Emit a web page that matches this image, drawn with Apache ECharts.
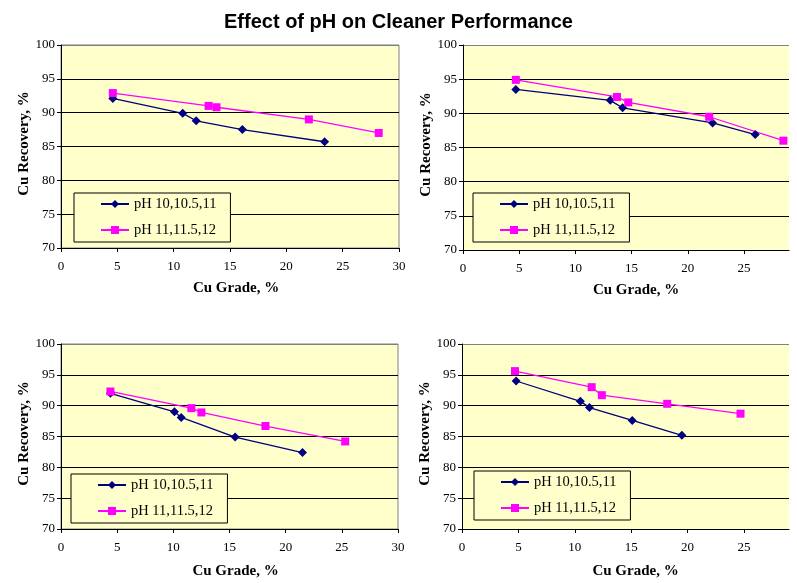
<!DOCTYPE html>
<html lang="en">
<head>
    <meta charset="UTF-8">
    <title>Effect of pH on Cleaner Performance</title>
    <script src="https://cdn.jsdelivr.net/npm/echarts@6/dist/echarts.min.js"></script>
    <style>
        body { margin: 0; background: #fff; }
        #chart { width: 797px; height: 583px; }
    </style>
</head>
<body>
    <div id="chart"></div>
    <script>
        // series names
        const nameLow = 'pH 10,10.5,11';
        const nameHigh = 'pH 11,11.5,12';

        // tick labels
        const gradeTicks = [0, 5, 10, 15, 20, 25, 30];
        const recoveryTicks = [70, 75, 80, 85, 90, 95, 100];

        // top left
        const gradeLow1 = [4.6, 10.8, 12.0, 16.1, 23.4];
        const recLow1 = [92.1, 89.9, 88.8, 87.5, 85.7];
        const gradeHigh1 = [4.6, 13.1, 13.8, 22.0, 28.2];
        const recHigh1 = [92.9, 91.0, 90.8, 89.0, 87.0];

        // top right
        const gradeLow2 = [4.7, 13.1, 14.2, 22.2, 26.0];
        const recLow2 = [93.5, 91.9, 90.8, 88.6, 86.9];
        const gradeHigh2 = [4.7, 13.7, 14.7, 21.9, 28.5];
        const recHigh2 = [94.9, 92.4, 91.6, 89.5, 86.0];

        // bottom left
        const gradeLow3 = [4.4, 10.1, 10.7, 15.5, 21.5];
        const recLow3 = [92.0, 89.0, 88.1, 84.9, 82.4];
        const gradeHigh3 = [4.4, 11.6, 12.5, 18.2, 25.3];
        const recHigh3 = [92.3, 89.6, 88.9, 86.7, 84.2];

        // bottom right
        const gradeLow4 = [4.8, 10.5, 11.3, 15.1, 19.5];
        const recLow4 = [94.0, 90.7, 89.7, 87.6, 85.2];
        const gradeHigh4 = [4.7, 11.5, 12.4, 18.2, 24.7];
        const recHigh4 = [95.6, 93.0, 91.7, 90.3, 88.7];

        const panels = [
            { low: [gradeLow1, recLow1], high: [gradeHigh1, recHigh1], xMax: 30, xGap: 33,
              grid: { left: 61, top: 45, width: 338, height: 203 }, legend: { left: 74, top: 193 }, nameShift: 12 },
            { low: [gradeLow2, recLow2], high: [gradeHigh2, recHigh2], xMax: 29, xGap: 33,
              grid: { left: 463, top: 45, width: 326, height: 205 }, legend: { left: 473, top: 193 }, nameShift: 20 },
            { low: [gradeLow3, recLow3], high: [gradeHigh3, recHigh3], xMax: 30, xGap: 35,
              grid: { left: 61, top: 344, width: 337, height: 185 }, legend: { left: 71, top: 474 }, nameShift: 12 },
            { low: [gradeLow4, recLow4], high: [gradeHigh4, recHigh4], xMax: 29, xGap: 35,
              grid: { left: 462, top: 344, width: 327, height: 185 }, legend: { left: 474, top: 471 }, nameShift: 20 }
        ];

        const serif = 'Liberation Serif, Times New Roman, serif';
        const pair = (xs, ys) => xs.map((x, i) => [x, ys[i]]);

        const option = {
            animation: false,
            title: {
                text: 'Effect of pH on Cleaner Performance',
                left: 'center',
                top: 7,
                textStyle: { fontFamily: 'Liberation Sans, Arial, sans-serif', fontSize: 20, fontWeight: 'bold', color: '#000' }
            },
            grid: [], xAxis: [], yAxis: [], legend: [], series: []
        };

        panels.forEach((p, i) => {
            // right-hand panels are cut off at the page edge, so no frame there
            const cut = p.xMax < 30;
            option.grid.push(Object.assign({
                show: true,
                backgroundColor: '#FFFFCC',
                borderColor: '#808080',
                borderWidth: cut ? 0 : 1
            }, p.grid));

            const visibleTicks = gradeTicks.filter(v => v <= p.xMax);
            option.xAxis.push({
                type: 'value',
                gridIndex: i,
                min: 0,
                max: p.xMax,
                interval: 5,
                name: 'Cu Grade, %',
                nameLocation: 'middle',
                nameGap: p.xGap,
                nameTextStyle: { fontFamily: serif, fontSize: 15, fontWeight: 'bold', color: '#000', padding: [0, 0, 0, p.nameShift] },
                axisLine: { lineStyle: { color: '#000', width: 1 } },
                axisTick: { show: true, length: 4, customValues: visibleTicks, lineStyle: { color: '#000' } },
                axisLabel: { customValues: visibleTicks, margin: 12, fontFamily: serif, fontSize: 13, color: '#000' },
                splitLine: { show: false }
            });

            option.yAxis.push({
                type: 'value',
                gridIndex: i,
                min: 70,
                max: 100,
                interval: 5,
                name: 'Cu Recovery, %',
                nameLocation: 'middle',
                nameGap: 27,
                nameTextStyle: { fontFamily: serif, fontSize: 15, fontWeight: 'bold', color: '#000', padding: [0, 0, 0, 6] },
                axisLine: { show: true, lineStyle: { color: '#000', width: 1 } },
                axisTick: { show: true, length: 4, lineStyle: { color: '#000' } },
                axisLabel: { margin: 6, fontFamily: serif, fontSize: 13, color: '#000',
                    formatter: v => recoveryTicks.includes(v) ? String(v) : '' },
                splitLine: { show: true, lineStyle: { color: ['#000', '#000', '#000', '#000', '#000', '#000', '#808080'], width: 1 } }
            });

            option.legend.push({
                orient: 'vertical',
                left: p.legend.left,
                top: p.legend.top,
                data: [nameLow, nameHigh],
                backgroundColor: '#FFFFCC',
                borderColor: '#000',
                borderWidth: 1,
                borderRadius: 0,
                padding: [3, 14, 4, 26],
                itemWidth: 28,
                itemHeight: 10,
                itemGap: 10,
                selectedMode: false,
                textStyle: { fontFamily: serif, fontSize: 14.5, lineHeight: 16, color: '#000' }
            });

            option.series.push({
                name: nameLow,
                type: 'line',
                xAxisIndex: i,
                yAxisIndex: i,
                data: pair(p.low[0], p.low[1]),
                symbol: 'diamond',
                symbolSize: 9,
                color: '#000080',
                lineStyle: { color: '#000080', width: 1.3 },
                itemStyle: { color: '#000080' }
            });
            option.series.push({
                name: nameHigh,
                type: 'line',
                xAxisIndex: i,
                yAxisIndex: i,
                data: pair(p.high[0], p.high[1]),
                symbol: 'rect',
                symbolSize: 8,
                color: '#FF00FF',
                lineStyle: { color: '#FF00FF', width: 1.3 },
                itemStyle: { color: '#FF00FF' }
            });
        });

        const chart = echarts.init(document.getElementById('chart'));
        chart.setOption(option);
    </script>
</body>
</html>
